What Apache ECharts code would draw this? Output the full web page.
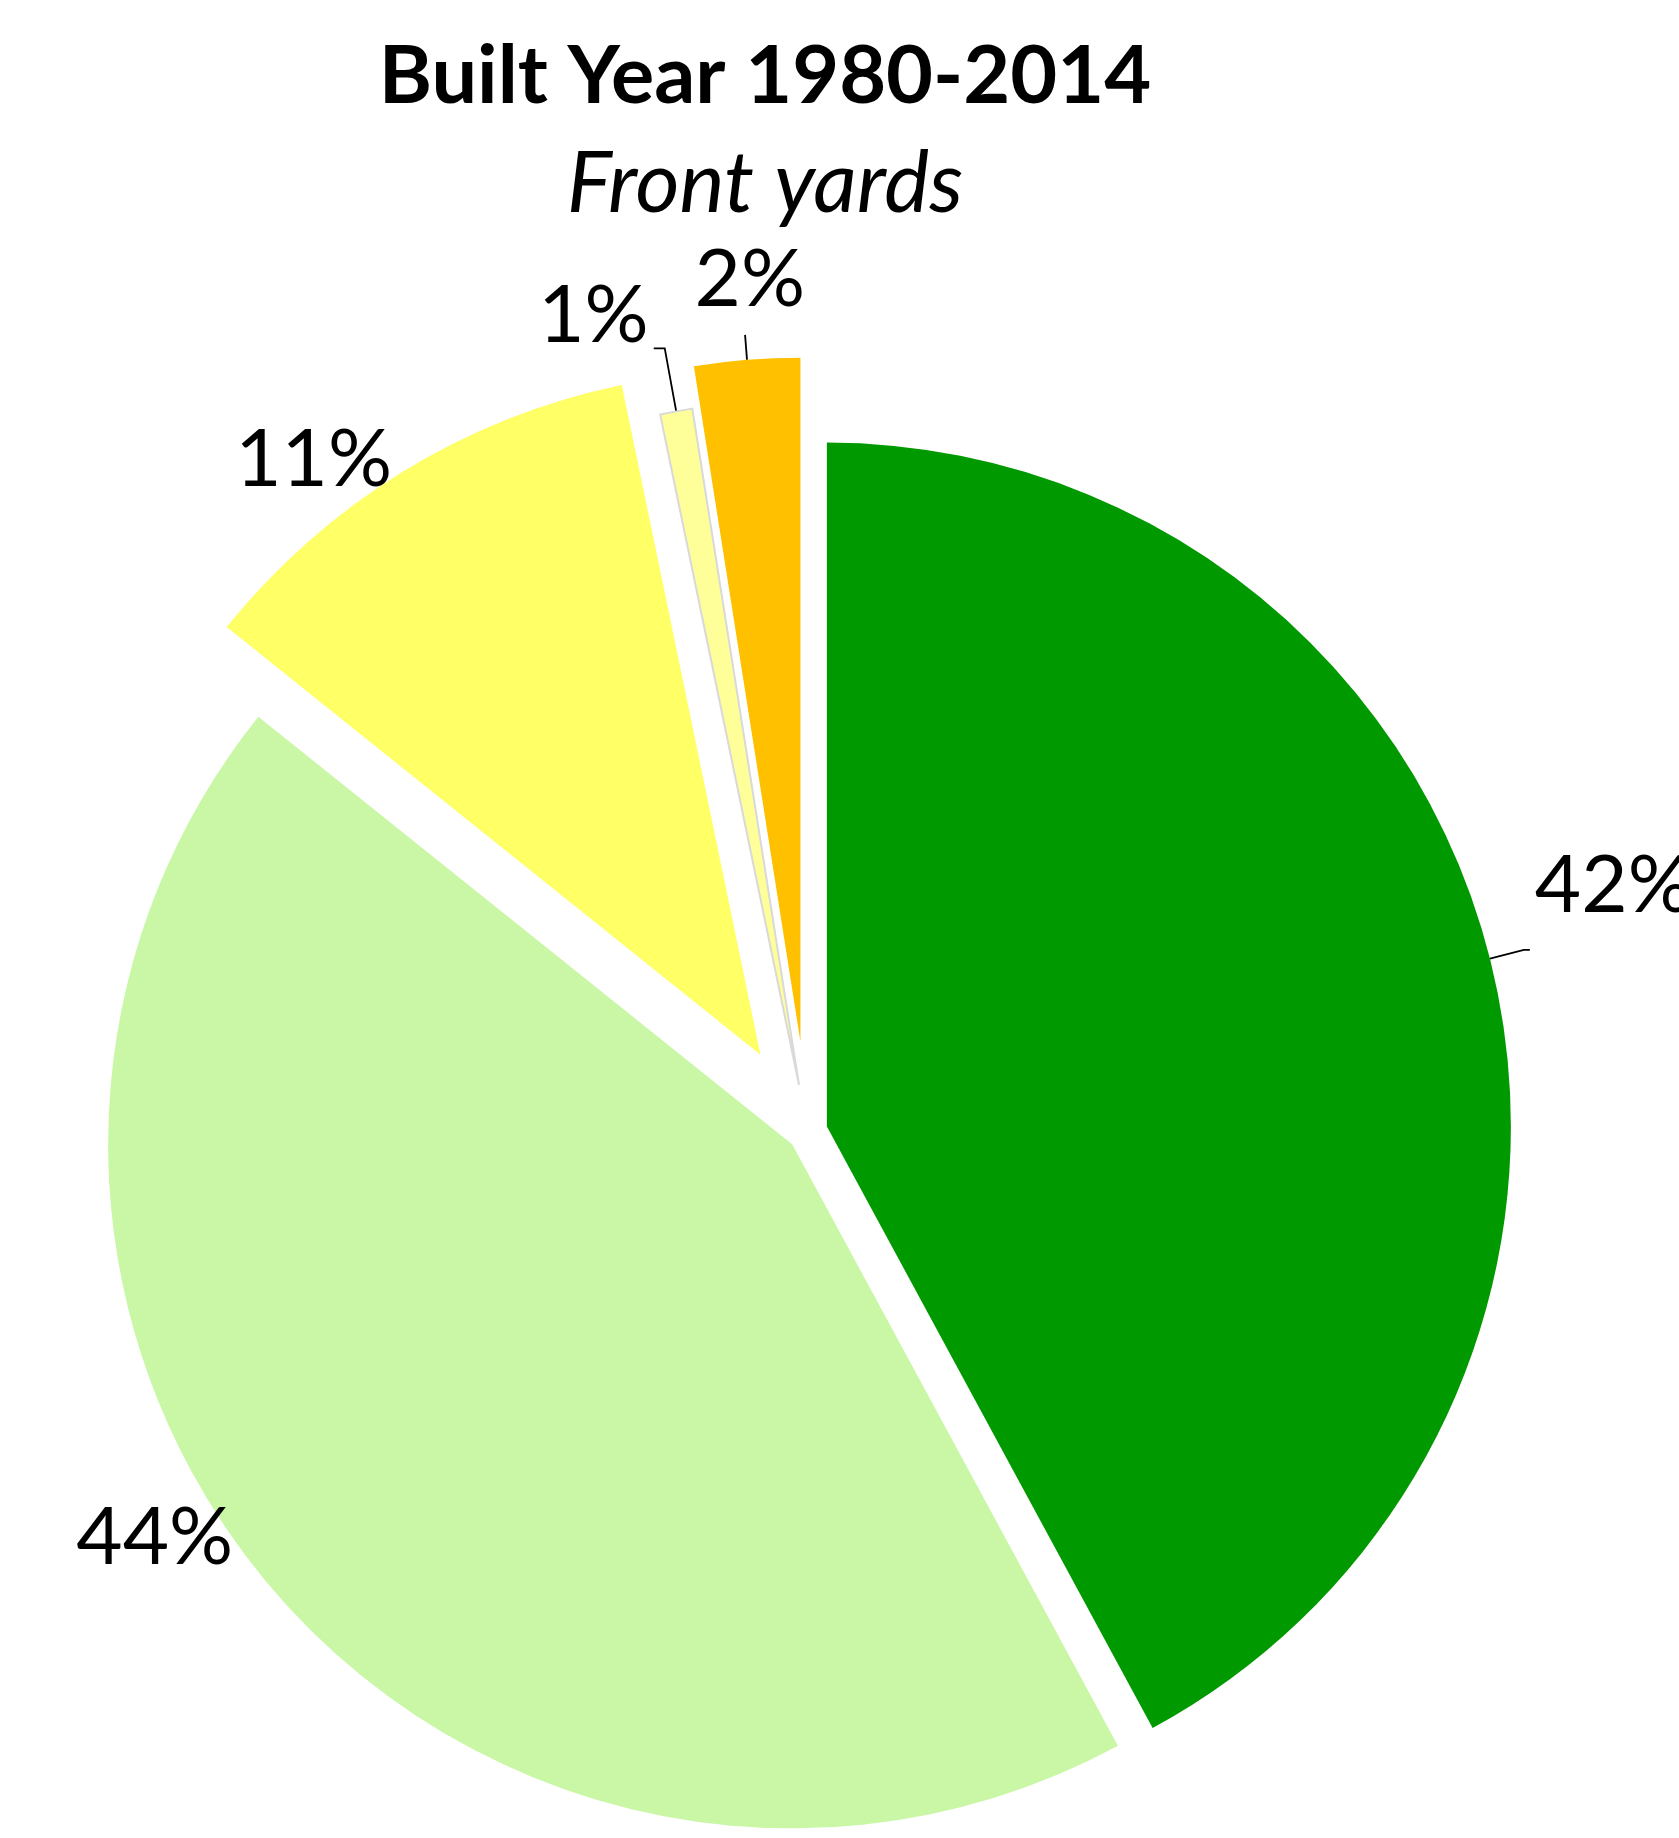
<!DOCTYPE html>
<html>
<head>
<meta charset="utf-8">
<title>Built Year 1980-2014</title>
<script src="https://cdn.jsdelivr.net/npm/echarts@6/dist/echarts.min.js"></script>
<style>
  html, body { margin: 0; padding: 0; background: #fff; }
  #chart { width: 1679px; height: 1838px; }
</style>
</head>
<body>
<div id="chart"></div>
<script>
// share of front yards (%)
var sliceNames = ['Dark green', 'Light green', 'Yellow', 'Pale yellow', 'Orange'];
var sliceValues = [42.1, 43.65, 11.0, 0.76, 2.49];
var sliceColors = ['#009900', '#c9f7a5', '#ffff66', '#ffff99', '#ffc000'];

// how far each slice is pulled out, and how its label is placed
var explode = [20, 20, 90, 48, 90];
var lineLen = [35, 0, 0, 64, 25];
var lineLen2 = [6, 29, 6, 11, 0];
var showLine = [true, false, false, true, true];
var liftLabel = [127, 89, 23, 65, 109];   // empty line under the text pushes it up
var padRight = [0, 0, 0, 0, -65];

var chartDom = document.getElementById('chart');
var myChart = echarts.init(chartDom);

// one pie per slice, all with the same data, so each slice can have its own pull-out
var series = [];
for (var i = 0; i < sliceValues.length; i++) {
  var data = [];
  for (var j = 0; j < sliceValues.length; j++) {
    if (j === i) {
      data.push({
        name: sliceNames[j],
        value: sliceValues[j],
        selected: true,
        itemStyle: {
          color: sliceColors[j],
          borderColor: j === 3 ? '#d9d9d9' : 'transparent',
          borderWidth: j === 3 ? 2 : 0
        },
        label: {
          show: true,
          padding: [0, padRight[j], 0, 0],
          rich: { gap: { height: liftLabel[j], lineHeight: liftLabel[j] } }
        },
        labelLine: { show: showLine[j], length: lineLen[j], length2: lineLen2[j] }
      });
    } else {
      data.push({
        name: sliceNames[j],
        value: sliceValues[j],
        itemStyle: { color: 'transparent', borderWidth: 0 },
        label: { show: false },
        labelLine: { show: false }
      });
    }
  }
  series.push({
    type: 'pie',
    center: [807.5, 1131.5],
    radius: 684,
    startAngle: 90,
    clockwise: true,
    silent: true,
    selectedMode: 'multiple',
    selectedOffset: explode[i],
    avoidLabelOverlap: false,
    percentPrecision: 0,
    label: {
      position: 'outside',
      formatter: '{d}%\n{gap| }',
      color: '#000',
      fontFamily: 'Lato',
      fontSize: 80,
      lineHeight: 80,
      distanceToLabelLine: 5
    },
    labelLine: {
      minTurnAngle: 0,
      lineStyle: { color: '#000', width: 1.8 }
    },
    data: data
  });
}

var option = {
  backgroundColor: '#fff',
  animation: false,
  title: {
    text: 'Built Year 1980-2014',
    subtext: 'Front yards',
    left: 760,
    top: 31,
    textAlign: 'center',
    textVerticalAlign: 'top',
    itemGap: 25,
    textStyle: {
      fontFamily: 'Lato',
      fontWeight: 'bold',
      fontSize: 81,
      lineHeight: 81,
      color: '#000'
    },
    subtextStyle: {
      fontFamily: 'Lato',
      fontStyle: 'italic',
      fontSize: 85,
      lineHeight: 85,
      color: '#000'
    }
  },
  series: series
};

option && myChart.setOption(option);
</script>
</body>
</html>
